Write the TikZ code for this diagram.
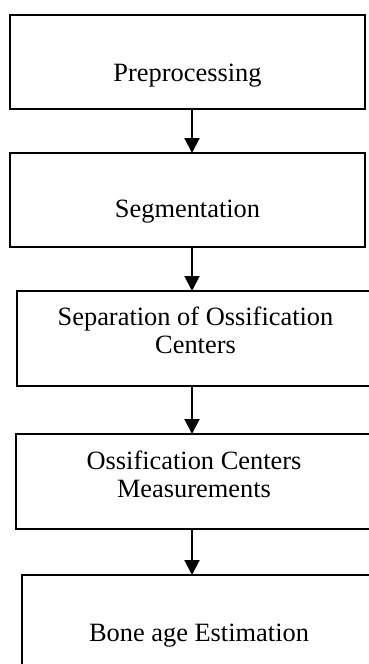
\documentclass[tikz,border=0pt]{standalone}
\usepackage{fontspec}
\setmainfont{Liberation Serif}
\usetikzlibrary{arrows.meta}
\begin{document}
\begin{tikzpicture}[x=1pt,y=-1pt,
  box/.style={draw=black,line width=2pt,rectangle,inner sep=0pt},
  lbl/.style={inner sep=0pt,anchor=base,align=center,font=\fontsize{26.4}{28}\selectfont},
  flow/.style={line width=2pt,-{Triangle[width=15pt,length=15pt]}}]
\useasboundingbox (0,0) rectangle (368,664);
\node[box,minimum width=355.5pt,minimum height=94pt] (b1) at (187.25,62) {};
\node[box,minimum width=355.5pt,minimum height=94pt] (b2) at (187.25,200) {};
\node[box,minimum width=357pt,minimum height=95pt] (b3) at (195.5,338.5) {};
\node[box,minimum width=356pt,minimum height=95pt] (b4) at (194,481.5) {};
\node[box,minimum width=354pt,minimum height=125pt] (b5) at (199,637.5) {};
\node[lbl] (t1) at (187.5,81) {Preprocessing};
\node[lbl] (t2) at (187.5,217) {Segmentation};
\node[lbl] (t3) at (195.5,353) {Separation of Ossification\\Centers};
\node[lbl] (t4) at (194,497) {Ossification Centers\\Measurements};
\node[lbl] (t5) at (199,641) {Bone age Estimation};
\coordinate (ax) at (192,0);
\draw[flow] (b1.south -| ax) -- ([yshift=-1pt]b2.north -| ax);
\draw[flow] (b2.south -| ax) -- ([yshift=-1pt]b3.north -| ax);
\draw[flow] (b3.south -| ax) -- ([yshift=-1pt]b4.north -| ax);
\draw[flow] (b4.south -| ax) -- ([yshift=-1pt]b5.north -| ax);
\end{tikzpicture}
\end{document}
